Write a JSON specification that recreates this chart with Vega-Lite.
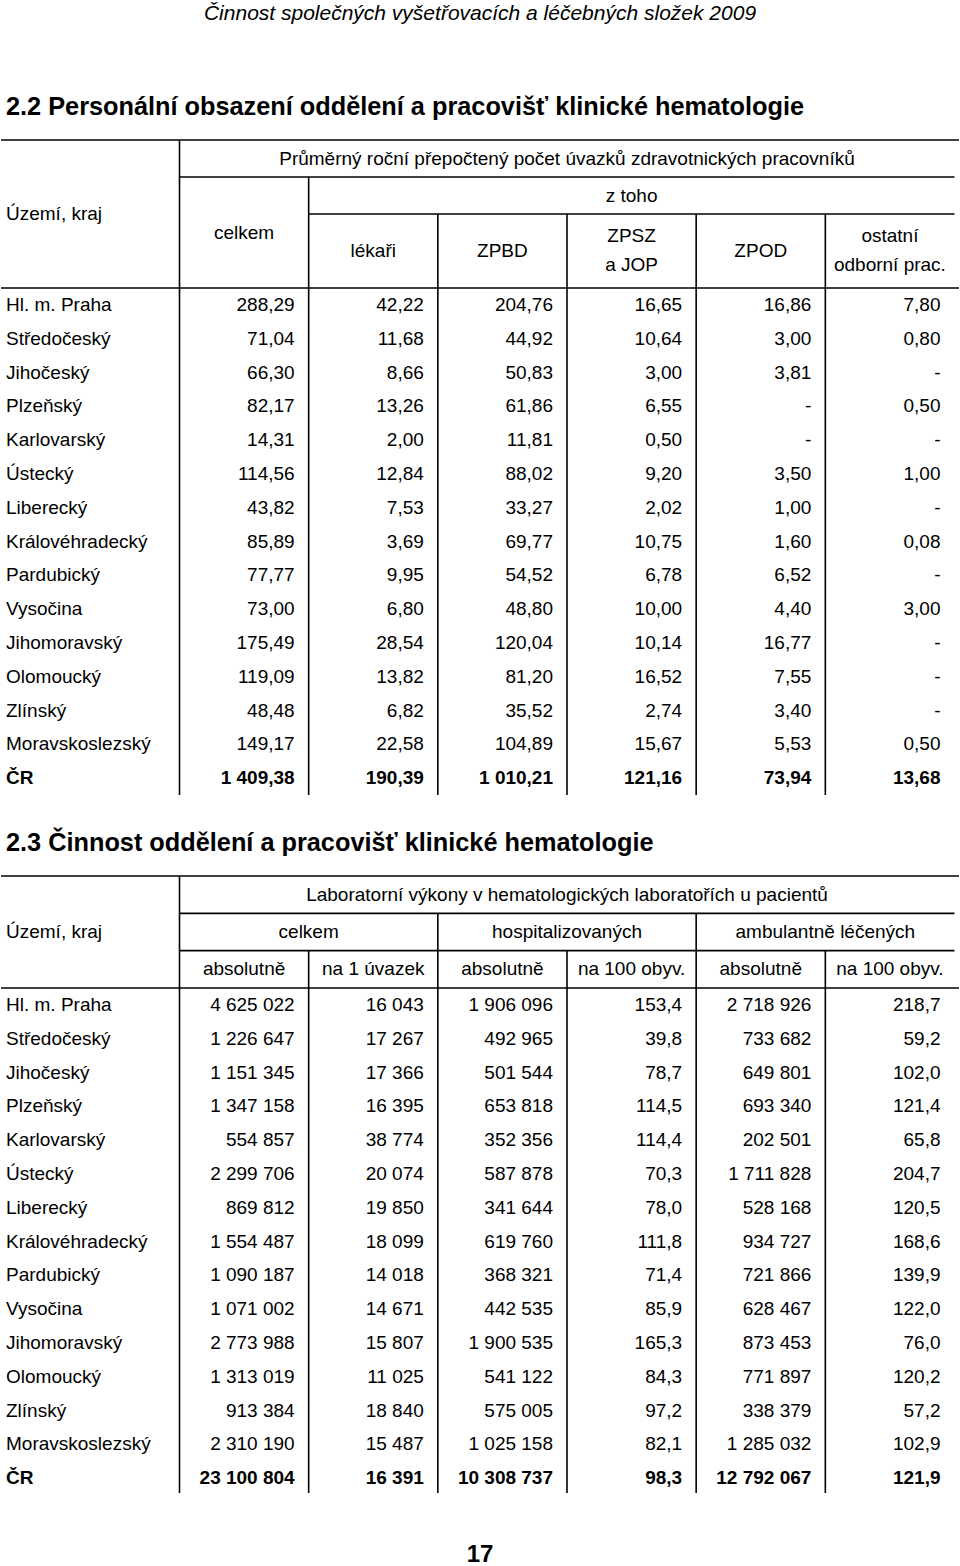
{
"$schema": "https://vega.github.io/schema/vega-lite/v6.json",
"width": 960, "height": 1566,
"autosize": {"type": "fit", "contains": "padding"},
"padding": 0,
"background": "white",
"config": {
  "view": {"stroke": null},
  "text": {"font": "Liberation Sans", "fontSize": 19, "color": "black", "baseline": "middle"},
  "rule": {"color": "black", "strokeWidth": 1.6},
  "locale": {"number": {"decimal": ",", "thousands": " ", "grouping": [3], "currency": ["", " Kč"]}}
},
"datasets": {
  "t1": [
    {"region": "Hl. m. Praha", "celkem": 288.29, "lekari": 42.22, "ZPBD": 204.76, "ZPSZ_JOP": 16.65, "ZPOD": 16.86, "ostatni": 7.80},
    {"region": "Středočeský", "celkem": 71.04, "lekari": 11.68, "ZPBD": 44.92, "ZPSZ_JOP": 10.64, "ZPOD": 3.00, "ostatni": 0.80},
    {"region": "Jihočeský", "celkem": 66.30, "lekari": 8.66, "ZPBD": 50.83, "ZPSZ_JOP": 3.00, "ZPOD": 3.81, "ostatni": null},
    {"region": "Plzeňský", "celkem": 82.17, "lekari": 13.26, "ZPBD": 61.86, "ZPSZ_JOP": 6.55, "ZPOD": null, "ostatni": 0.50},
    {"region": "Karlovarský", "celkem": 14.31, "lekari": 2.00, "ZPBD": 11.81, "ZPSZ_JOP": 0.50, "ZPOD": null, "ostatni": null},
    {"region": "Ústecký", "celkem": 114.56, "lekari": 12.84, "ZPBD": 88.02, "ZPSZ_JOP": 9.20, "ZPOD": 3.50, "ostatni": 1.00},
    {"region": "Liberecký", "celkem": 43.82, "lekari": 7.53, "ZPBD": 33.27, "ZPSZ_JOP": 2.02, "ZPOD": 1.00, "ostatni": null},
    {"region": "Královéhradecký", "celkem": 85.89, "lekari": 3.69, "ZPBD": 69.77, "ZPSZ_JOP": 10.75, "ZPOD": 1.60, "ostatni": 0.08},
    {"region": "Pardubický", "celkem": 77.77, "lekari": 9.95, "ZPBD": 54.52, "ZPSZ_JOP": 6.78, "ZPOD": 6.52, "ostatni": null},
    {"region": "Vysočina", "celkem": 73.00, "lekari": 6.80, "ZPBD": 48.80, "ZPSZ_JOP": 10.00, "ZPOD": 4.40, "ostatni": 3.00},
    {"region": "Jihomoravský", "celkem": 175.49, "lekari": 28.54, "ZPBD": 120.04, "ZPSZ_JOP": 10.14, "ZPOD": 16.77, "ostatni": null},
    {"region": "Olomoucký", "celkem": 119.09, "lekari": 13.82, "ZPBD": 81.20, "ZPSZ_JOP": 16.52, "ZPOD": 7.55, "ostatni": null},
    {"region": "Zlínský", "celkem": 48.48, "lekari": 6.82, "ZPBD": 35.52, "ZPSZ_JOP": 2.74, "ZPOD": 3.40, "ostatni": null},
    {"region": "Moravskoslezský", "celkem": 149.17, "lekari": 22.58, "ZPBD": 104.89, "ZPSZ_JOP": 15.67, "ZPOD": 5.53, "ostatni": 0.50},
    {"region": "ČR", "celkem": 1409.38, "lekari": 190.39, "ZPBD": 1010.21, "ZPSZ_JOP": 121.16, "ZPOD": 73.94, "ostatni": 13.68}
  ],
  "t2": [
    {"region": "Hl. m. Praha", "celkem_abs": 4625022, "celkem_na_uvazek": 16043, "hosp_abs": 1906096, "hosp_na_100": 153.4, "amb_abs": 2718926, "amb_na_100": 218.7},
    {"region": "Středočeský", "celkem_abs": 1226647, "celkem_na_uvazek": 17267, "hosp_abs": 492965, "hosp_na_100": 39.8, "amb_abs": 733682, "amb_na_100": 59.2},
    {"region": "Jihočeský", "celkem_abs": 1151345, "celkem_na_uvazek": 17366, "hosp_abs": 501544, "hosp_na_100": 78.7, "amb_abs": 649801, "amb_na_100": 102.0},
    {"region": "Plzeňský", "celkem_abs": 1347158, "celkem_na_uvazek": 16395, "hosp_abs": 653818, "hosp_na_100": 114.5, "amb_abs": 693340, "amb_na_100": 121.4},
    {"region": "Karlovarský", "celkem_abs": 554857, "celkem_na_uvazek": 38774, "hosp_abs": 352356, "hosp_na_100": 114.4, "amb_abs": 202501, "amb_na_100": 65.8},
    {"region": "Ústecký", "celkem_abs": 2299706, "celkem_na_uvazek": 20074, "hosp_abs": 587878, "hosp_na_100": 70.3, "amb_abs": 1711828, "amb_na_100": 204.7},
    {"region": "Liberecký", "celkem_abs": 869812, "celkem_na_uvazek": 19850, "hosp_abs": 341644, "hosp_na_100": 78.0, "amb_abs": 528168, "amb_na_100": 120.5},
    {"region": "Královéhradecký", "celkem_abs": 1554487, "celkem_na_uvazek": 18099, "hosp_abs": 619760, "hosp_na_100": 111.8, "amb_abs": 934727, "amb_na_100": 168.6},
    {"region": "Pardubický", "celkem_abs": 1090187, "celkem_na_uvazek": 14018, "hosp_abs": 368321, "hosp_na_100": 71.4, "amb_abs": 721866, "amb_na_100": 139.9},
    {"region": "Vysočina", "celkem_abs": 1071002, "celkem_na_uvazek": 14671, "hosp_abs": 442535, "hosp_na_100": 85.9, "amb_abs": 628467, "amb_na_100": 122.0},
    {"region": "Jihomoravský", "celkem_abs": 2773988, "celkem_na_uvazek": 15807, "hosp_abs": 1900535, "hosp_na_100": 165.3, "amb_abs": 873453, "amb_na_100": 76.0},
    {"region": "Olomoucký", "celkem_abs": 1313019, "celkem_na_uvazek": 11025, "hosp_abs": 541122, "hosp_na_100": 84.3, "amb_abs": 771897, "amb_na_100": 120.2},
    {"region": "Zlínský", "celkem_abs": 913384, "celkem_na_uvazek": 18840, "hosp_abs": 575005, "hosp_na_100": 97.2, "amb_abs": 338379, "amb_na_100": 57.2},
    {"region": "Moravskoslezský", "celkem_abs": 2310190, "celkem_na_uvazek": 15487, "hosp_abs": 1025158, "hosp_na_100": 82.1, "amb_abs": 1285032, "amb_na_100": 102.9},
    {"region": "ČR", "celkem_abs": 23100804, "celkem_na_uvazek": 16391, "hosp_abs": 10308737, "hosp_na_100": 98.3, "amb_abs": 12792067, "amb_na_100": 121.9}
  ]
},
"resolve": {"scale": {"x": "independent", "y": "independent"}},
"layer": [
  {
    "data": {"values": [{"part": "page header", "text": "Činnost společných vyšetřovacích a léčebných složek 2009"}]},
    "mark": {"type": "text", "fontStyle": "italic", "fontSize": 21, "align": "center"},
    "encoding": {
      "x": {"datum": "centre", "type": "nominal", "scale": {"type": "point", "domain": ["left", "centre"], "range": [5, 479], "padding": 0}, "axis": null},
      "y": {"field": "part", "type": "nominal", "scale": {"type": "point", "domain": ["page header", "page number"], "range": [14, 1555], "padding": 0}, "axis": null},
      "text": {"field": "text", "type": "nominal"}
    }
  },
  {
    "data": {"values": [{"part": "page number", "text": "17"}]},
    "mark": {"type": "text", "fontWeight": "bold", "fontSize": 24, "align": "center"},
    "encoding": {
      "x": {"datum": "centre", "type": "nominal", "scale": {"type": "point", "domain": ["left", "centre"], "range": [5, 479], "padding": 0}, "axis": null},
      "y": {"field": "part", "type": "nominal", "scale": {"type": "point", "domain": ["page header", "page number"], "range": [14, 1555], "padding": 0}, "axis": null},
      "text": {"field": "text", "type": "nominal"}
    }
  },
  {
    "data": {"values": [
      {"part": "2.2", "text": "2.2 Personální obsazení oddělení a pracovišť klinické hematologie"},
      {"part": "2.3", "text": "2.3 Činnost oddělení a pracovišť klinické hematologie"}
    ]},
    "mark": {"type": "text", "fontWeight": "bold", "fontSize": 25.3, "align": "left"},
    "encoding": {
      "x": {"datum": "left", "type": "nominal", "scale": {"type": "point", "domain": ["left", "centre"], "range": [5, 479], "padding": 0}, "axis": null},
      "y": {"field": "part", "type": "nominal", "scale": {"type": "point", "domain": ["2.2", "2.3"], "range": [107, 843], "padding": 0}, "axis": null},
      "text": {"field": "text", "type": "nominal"}
    }
  },

  {
    "data": {"values": [
      {"text": "z toho", "col": "ZPSZ_JOP", "level": "h3"},
      {"text": "celkem", "col": "celkem", "level": "h5"},
      {"text": "lékaři", "col": "lekari", "level": "h6"},
      {"text": "ZPBD", "col": "ZPBD", "level": "h6"},
      {"text": "ZPOD", "col": "ZPOD", "level": "h6"}
    ]},
    "mark": {"type": "text", "align": "center"},
    "encoding": {
      "x": {"field": "col", "type": "nominal", "bandPosition": 0.5, "scale": {"type": "band", "domain": ["celkem", "lekari", "ZPBD", "ZPSZ_JOP", "ZPOD", "ostatni"], "range": [178.5, 953.5], "paddingInner": 0, "paddingOuter": 0}, "axis": null},
      "y": {"field": "level", "type": "nominal", "scale": {"type": "point", "domain": ["h0", "h1", "h2", "h3", "h4", "h5", "h6", "h7", "h8"], "range": [140, 288], "padding": 0}, "axis": null},
      "text": {"field": "text", "type": "nominal"}
    }
  },
  {
    "data": {"values": [
      {"text": ["ZPSZ", "a JOP"], "col": "ZPSZ_JOP", "level": "h5"},
      {"text": ["ostatní", "odborní prac."], "col": "ostatni", "level": "h5"}
    ]},
    "mark": {"type": "text", "align": "center", "lineHeight": 29, "dy": 3.5},
    "encoding": {
      "x": {"field": "col", "type": "nominal", "bandPosition": 0.5, "scale": {"type": "band", "domain": ["celkem", "lekari", "ZPBD", "ZPSZ_JOP", "ZPOD", "ostatni"], "range": [178.5, 953.5], "paddingInner": 0, "paddingOuter": 0}, "axis": null},
      "y": {"field": "level", "type": "nominal", "scale": {"type": "point", "domain": ["h0", "h1", "h2", "h3", "h4", "h5", "h6", "h7", "h8"], "range": [140, 288], "padding": 0}, "axis": null},
      "text": {"field": "text", "type": "nominal"}
    }
  },
  {
    "data": {"values": [
      {"text": "Průměrný roční přepočtený počet úvazků zdravotnických pracovníků", "col": "ZPSZ_JOP", "level": "h1"}
    ]},
    "mark": {"type": "text", "align": "center"},
    "encoding": {
      "x": {"field": "col", "type": "nominal", "scale": {"type": "point", "domain": ["celkem", "lekari", "ZPBD", "ZPSZ_JOP", "ZPOD", "ostatni", "konec"], "range": [178.5, 953.5], "padding": 0}, "axis": null},
      "y": {"field": "level", "type": "nominal", "scale": {"type": "point", "domain": ["h0", "h1", "h2", "h3", "h4", "h5", "h6", "h7", "h8"], "range": [140, 288], "padding": 0}, "axis": null},
      "text": {"field": "text", "type": "nominal"}
    }
  },
  {
    "data": {"values": [{"text": "Území, kraj", "level": "h4"}]},
    "mark": {"type": "text", "align": "left"},
    "encoding": {
      "x": {"datum": "left", "type": "nominal", "scale": {"type": "point", "domain": ["left", "centre"], "range": [5, 479], "padding": 0}, "axis": null},
      "y": {"field": "level", "type": "nominal", "scale": {"type": "point", "domain": ["h0", "h1", "h2", "h3", "h4", "h5", "h6", "h7", "h8"], "range": [140, 288], "padding": 0}, "axis": null},
      "text": {"field": "text", "type": "nominal"}
    }
  },
  {
    "data": {"name": "t1"},
    "transform": [{"filter": "datum.region !== 'ČR'"}],
    "mark": {"type": "text", "align": "left"},
    "encoding": {
      "x": {"datum": "left", "type": "nominal", "scale": {"type": "point", "domain": ["left", "centre"], "range": [5, 479], "padding": 0}, "axis": null},
      "y": {"field": "region", "type": "nominal", "bandPosition": 0.5, "scale": {"type": "band", "domain": ["Hl. m. Praha", "Středočeský", "Jihočeský", "Plzeňský", "Karlovarský", "Ústecký", "Liberecký", "Královéhradecký", "Pardubický", "Vysočina", "Jihomoravský", "Olomoucký", "Zlínský", "Moravskoslezský", "ČR"], "range": [288, 795], "paddingInner": 0, "paddingOuter": 0}, "axis": null},
      "text": {"field": "region", "type": "nominal"}
    }
  },
  {
    "data": {"name": "t1"},
    "transform": [{"filter": "datum.region === 'ČR'"}],
    "mark": {"type": "text", "align": "left", "fontWeight": "bold"},
    "encoding": {
      "x": {"datum": "left", "type": "nominal", "scale": {"type": "point", "domain": ["left", "centre"], "range": [5, 479], "padding": 0}, "axis": null},
      "y": {"field": "region", "type": "nominal", "bandPosition": 0.5, "scale": {"type": "band", "domain": ["Hl. m. Praha", "Středočeský", "Jihočeský", "Plzeňský", "Karlovarský", "Ústecký", "Liberecký", "Královéhradecký", "Pardubický", "Vysočina", "Jihomoravský", "Olomoucký", "Zlínský", "Moravskoslezský", "ČR"], "range": [288, 795], "paddingInner": 0, "paddingOuter": 0}, "axis": null},
      "text": {"field": "region", "type": "nominal"}
    }
  },
  {
    "data": {"name": "t1"},
    "transform": [
      {"filter": "datum.region !== 'ČR'"},
      {"fold": ["celkem", "lekari", "ZPBD", "ZPSZ_JOP", "ZPOD", "ostatni"], "as": ["key", "value"]}
    ],
    "mark": {"type": "text", "align": "right", "dx": -14},
    "encoding": {
      "x": {"field": "key", "type": "nominal", "bandPosition": 1, "scale": {"type": "band", "domain": ["celkem", "lekari", "ZPBD", "ZPSZ_JOP", "ZPOD", "ostatni"], "range": [178.5, 953.5], "paddingInner": 0, "paddingOuter": 0}, "axis": null},
      "y": {"field": "region", "type": "nominal", "bandPosition": 0.5, "scale": {"type": "band", "domain": ["Hl. m. Praha", "Středočeský", "Jihočeský", "Plzeňský", "Karlovarský", "Ústecký", "Liberecký", "Královéhradecký", "Pardubický", "Vysočina", "Jihomoravský", "Olomoucký", "Zlínský", "Moravskoslezský", "ČR"], "range": [288, 795], "paddingInner": 0, "paddingOuter": 0}, "axis": null},
      "text": {"condition": {"test": "datum.value === null", "value": "-"}, "field": "value", "type": "quantitative", "format": ",.2f"}
    }
  },
  {
    "data": {"name": "t1"},
    "transform": [
      {"filter": "datum.region === 'ČR'"},
      {"fold": ["celkem", "lekari", "ZPBD", "ZPSZ_JOP", "ZPOD", "ostatni"], "as": ["key", "value"]}
    ],
    "mark": {"type": "text", "align": "right", "dx": -14, "fontWeight": "bold"},
    "encoding": {
      "x": {"field": "key", "type": "nominal", "bandPosition": 1, "scale": {"type": "band", "domain": ["celkem", "lekari", "ZPBD", "ZPSZ_JOP", "ZPOD", "ostatni"], "range": [178.5, 953.5], "paddingInner": 0, "paddingOuter": 0}, "axis": null},
      "y": {"field": "region", "type": "nominal", "bandPosition": 0.5, "scale": {"type": "band", "domain": ["Hl. m. Praha", "Středočeský", "Jihočeský", "Plzeňský", "Karlovarský", "Ústecký", "Liberecký", "Královéhradecký", "Pardubický", "Vysočina", "Jihomoravský", "Olomoucký", "Zlínský", "Moravskoslezský", "ČR"], "range": [288, 795], "paddingInner": 0, "paddingOuter": 0}, "axis": null},
      "text": {"condition": {"test": "datum.value === null", "value": "-"}, "field": "value", "type": "quantitative", "format": ",.2f"}
    }
  },
  {
    "data": {"values": [{"level": "h0"}, {"level": "h8"}]},
    "mark": "rule",
    "encoding": {
      "y": {"field": "level", "type": "nominal", "scale": {"type": "point", "domain": ["h0", "h1", "h2", "h3", "h4", "h5", "h6", "h7", "h8"], "range": [140, 288], "padding": 0}, "axis": null}
    }
  },
  {
    "data": {"values": [{"level": "h2", "from": "celkem"}, {"level": "h4", "from": "lekari"}]},
    "mark": "rule",
    "encoding": {
      "x": {"field": "from", "type": "nominal", "scale": {"type": "point", "domain": ["celkem", "lekari", "ZPBD", "ZPSZ_JOP", "ZPOD", "ostatni", "konec"], "range": [178.5, 953.5], "padding": 0}, "axis": null},
      "x2": {"datum": "konec"},
      "y": {"field": "level", "type": "nominal", "scale": {"type": "point", "domain": ["h0", "h1", "h2", "h3", "h4", "h5", "h6", "h7", "h8"], "range": [140, 288], "padding": 0}, "axis": null}
    }
  },
  {
    "data": {"values": [
      {"col": "celkem", "from": "h0"}, {"col": "lekari", "from": "h2"}, {"col": "ZPBD", "from": "h4"},
      {"col": "ZPSZ_JOP", "from": "h4"}, {"col": "ZPOD", "from": "h4"}, {"col": "ostatni", "from": "h4"}
    ]},
    "mark": "rule",
    "encoding": {
      "x": {"field": "col", "type": "nominal", "scale": {"type": "point", "domain": ["celkem", "lekari", "ZPBD", "ZPSZ_JOP", "ZPOD", "ostatni", "konec"], "range": [178.5, 953.5], "padding": 0}, "axis": null},
      "y": {"field": "from", "type": "nominal", "scale": {"type": "point", "domain": ["h0", "h1", "h2", "h3", "h4", "h5", "h6", "h7", "h8"], "range": [140, 288], "padding": 0}, "axis": null},
      "y2": {"datum": "h8"}
    }
  },
  {
    "data": {"values": [{"col": "celkem"}, {"col": "lekari"}, {"col": "ZPBD"}, {"col": "ZPSZ_JOP"}, {"col": "ZPOD"}, {"col": "ostatni"}]},
    "mark": "rule",
    "encoding": {
      "x": {"field": "col", "type": "nominal", "scale": {"type": "point", "domain": ["celkem", "lekari", "ZPBD", "ZPSZ_JOP", "ZPOD", "ostatni", "konec"], "range": [178.5, 953.5], "padding": 0}, "axis": null},
      "y": {"datum": "start", "type": "nominal", "scale": {"type": "point", "domain": ["start", "end"], "range": [288, 795], "padding": 0}, "axis": null},
      "y2": {"datum": "end"}
    }
  },

  {
    "data": {"values": [
      {"text": "absolutně", "col": "celkem_abs", "level": "h5"},
      {"text": "na 1 úvazek", "col": "celkem_na_uvazek", "level": "h5"},
      {"text": "absolutně", "col": "hosp_abs", "level": "h5"},
      {"text": "na 100 obyv.", "col": "hosp_na_100", "level": "h5"},
      {"text": "absolutně", "col": "amb_abs", "level": "h5"},
      {"text": "na 100 obyv.", "col": "amb_na_100", "level": "h5"}
    ]},
    "mark": {"type": "text", "align": "center"},
    "encoding": {
      "x": {"field": "col", "type": "nominal", "bandPosition": 0.5, "scale": {"type": "band", "domain": ["celkem_abs", "celkem_na_uvazek", "hosp_abs", "hosp_na_100", "amb_abs", "amb_na_100"], "range": [178.5, 953.5], "paddingInner": 0, "paddingOuter": 0}, "axis": null},
      "y": {"field": "level", "type": "nominal", "scale": {"type": "point", "domain": ["h0", "h1", "h2", "h3", "h4", "h5", "h6"], "range": [876, 988], "padding": 0}, "axis": null},
      "text": {"field": "text", "type": "nominal"}
    }
  },
  {
    "data": {"values": [
      {"text": "Laboratorní výkony v hematologických laboratořích u pacientů", "col": "hosp_na_100", "level": "h1"},
      {"text": "celkem", "col": "celkem_na_uvazek", "level": "h3"},
      {"text": "hospitalizovaných", "col": "hosp_na_100", "level": "h3"},
      {"text": "ambulantně léčených", "col": "amb_na_100", "level": "h3"}
    ]},
    "mark": {"type": "text", "align": "center"},
    "encoding": {
      "x": {"field": "col", "type": "nominal", "scale": {"type": "point", "domain": ["celkem_abs", "celkem_na_uvazek", "hosp_abs", "hosp_na_100", "amb_abs", "amb_na_100", "konec"], "range": [178.5, 953.5], "padding": 0}, "axis": null},
      "y": {"field": "level", "type": "nominal", "scale": {"type": "point", "domain": ["h0", "h1", "h2", "h3", "h4", "h5", "h6"], "range": [876, 988], "padding": 0}, "axis": null},
      "text": {"field": "text", "type": "nominal"}
    }
  },
  {
    "data": {"values": [{"text": "Území, kraj", "level": "h3"}]},
    "mark": {"type": "text", "align": "left"},
    "encoding": {
      "x": {"datum": "left", "type": "nominal", "scale": {"type": "point", "domain": ["left", "centre"], "range": [5, 479], "padding": 0}, "axis": null},
      "y": {"field": "level", "type": "nominal", "scale": {"type": "point", "domain": ["h0", "h1", "h2", "h3", "h4", "h5", "h6"], "range": [876, 988], "padding": 0}, "axis": null},
      "text": {"field": "text", "type": "nominal"}
    }
  },
  {
    "data": {"name": "t2"},
    "transform": [{"filter": "datum.region !== 'ČR'"}],
    "mark": {"type": "text", "align": "left"},
    "encoding": {
      "x": {"datum": "left", "type": "nominal", "scale": {"type": "point", "domain": ["left", "centre"], "range": [5, 479], "padding": 0}, "axis": null},
      "y": {"field": "region", "type": "nominal", "bandPosition": 0.5, "scale": {"type": "band", "domain": ["Hl. m. Praha", "Středočeský", "Jihočeský", "Plzeňský", "Karlovarský", "Ústecký", "Liberecký", "Královéhradecký", "Pardubický", "Vysočina", "Jihomoravský", "Olomoucký", "Zlínský", "Moravskoslezský", "ČR"], "range": [988, 1495], "paddingInner": 0, "paddingOuter": 0}, "axis": null},
      "text": {"field": "region", "type": "nominal"}
    }
  },
  {
    "data": {"name": "t2"},
    "transform": [{"filter": "datum.region === 'ČR'"}],
    "mark": {"type": "text", "align": "left", "fontWeight": "bold"},
    "encoding": {
      "x": {"datum": "left", "type": "nominal", "scale": {"type": "point", "domain": ["left", "centre"], "range": [5, 479], "padding": 0}, "axis": null},
      "y": {"field": "region", "type": "nominal", "bandPosition": 0.5, "scale": {"type": "band", "domain": ["Hl. m. Praha", "Středočeský", "Jihočeský", "Plzeňský", "Karlovarský", "Ústecký", "Liberecký", "Královéhradecký", "Pardubický", "Vysočina", "Jihomoravský", "Olomoucký", "Zlínský", "Moravskoslezský", "ČR"], "range": [988, 1495], "paddingInner": 0, "paddingOuter": 0}, "axis": null},
      "text": {"field": "region", "type": "nominal"}
    }
  },
  {
    "data": {"name": "t2"},
    "transform": [
      {"filter": "datum.region !== 'ČR'"},
      {"fold": ["celkem_abs", "celkem_na_uvazek", "hosp_abs", "hosp_na_100", "amb_abs", "amb_na_100"], "as": ["key", "value"]}
    ],
    "mark": {"type": "text", "align": "right", "dx": -14},
    "encoding": {
      "x": {"field": "key", "type": "nominal", "bandPosition": 1, "scale": {"type": "band", "domain": ["celkem_abs", "celkem_na_uvazek", "hosp_abs", "hosp_na_100", "amb_abs", "amb_na_100"], "range": [178.5, 953.5], "paddingInner": 0, "paddingOuter": 0}, "axis": null},
      "y": {"field": "region", "type": "nominal", "bandPosition": 0.5, "scale": {"type": "band", "domain": ["Hl. m. Praha", "Středočeský", "Jihočeský", "Plzeňský", "Karlovarský", "Ústecký", "Liberecký", "Královéhradecký", "Pardubický", "Vysočina", "Jihomoravský", "Olomoucký", "Zlínský", "Moravskoslezský", "ČR"], "range": [988, 1495], "paddingInner": 0, "paddingOuter": 0}, "axis": null},
      "text": {"condition": {"test": "indexof(datum.key, 'na_100') >= 0", "field": "value", "type": "quantitative", "format": ",.1f"}, "field": "value", "type": "quantitative", "format": ",d"}
    }
  },
  {
    "data": {"name": "t2"},
    "transform": [
      {"filter": "datum.region === 'ČR'"},
      {"fold": ["celkem_abs", "celkem_na_uvazek", "hosp_abs", "hosp_na_100", "amb_abs", "amb_na_100"], "as": ["key", "value"]}
    ],
    "mark": {"type": "text", "align": "right", "dx": -14, "fontWeight": "bold"},
    "encoding": {
      "x": {"field": "key", "type": "nominal", "bandPosition": 1, "scale": {"type": "band", "domain": ["celkem_abs", "celkem_na_uvazek", "hosp_abs", "hosp_na_100", "amb_abs", "amb_na_100"], "range": [178.5, 953.5], "paddingInner": 0, "paddingOuter": 0}, "axis": null},
      "y": {"field": "region", "type": "nominal", "bandPosition": 0.5, "scale": {"type": "band", "domain": ["Hl. m. Praha", "Středočeský", "Jihočeský", "Plzeňský", "Karlovarský", "Ústecký", "Liberecký", "Královéhradecký", "Pardubický", "Vysočina", "Jihomoravský", "Olomoucký", "Zlínský", "Moravskoslezský", "ČR"], "range": [988, 1495], "paddingInner": 0, "paddingOuter": 0}, "axis": null},
      "text": {"condition": {"test": "indexof(datum.key, 'na_100') >= 0", "field": "value", "type": "quantitative", "format": ",.1f"}, "field": "value", "type": "quantitative", "format": ",d"}
    }
  },
  {
    "data": {"values": [{"level": "h0"}, {"level": "h6"}]},
    "mark": "rule",
    "encoding": {
      "y": {"field": "level", "type": "nominal", "scale": {"type": "point", "domain": ["h0", "h1", "h2", "h3", "h4", "h5", "h6"], "range": [876, 988], "padding": 0}, "axis": null}
    }
  },
  {
    "data": {"values": [{"level": "h2", "from": "celkem_abs"}, {"level": "h4", "from": "celkem_abs"}]},
    "mark": "rule",
    "encoding": {
      "x": {"field": "from", "type": "nominal", "scale": {"type": "point", "domain": ["celkem_abs", "celkem_na_uvazek", "hosp_abs", "hosp_na_100", "amb_abs", "amb_na_100", "konec"], "range": [178.5, 953.5], "padding": 0}, "axis": null},
      "x2": {"datum": "konec"},
      "y": {"field": "level", "type": "nominal", "scale": {"type": "point", "domain": ["h0", "h1", "h2", "h3", "h4", "h5", "h6"], "range": [876, 988], "padding": 0}, "axis": null}
    }
  },
  {
    "data": {"values": [
      {"col": "celkem_abs", "from": "h0"}, {"col": "celkem_na_uvazek", "from": "h4"}, {"col": "hosp_abs", "from": "h2"},
      {"col": "hosp_na_100", "from": "h4"}, {"col": "amb_abs", "from": "h2"}, {"col": "amb_na_100", "from": "h4"}
    ]},
    "mark": "rule",
    "encoding": {
      "x": {"field": "col", "type": "nominal", "scale": {"type": "point", "domain": ["celkem_abs", "celkem_na_uvazek", "hosp_abs", "hosp_na_100", "amb_abs", "amb_na_100", "konec"], "range": [178.5, 953.5], "padding": 0}, "axis": null},
      "y": {"field": "from", "type": "nominal", "scale": {"type": "point", "domain": ["h0", "h1", "h2", "h3", "h4", "h5", "h6"], "range": [876, 988], "padding": 0}, "axis": null},
      "y2": {"datum": "h6"}
    }
  },
  {
    "data": {"values": [{"col": "celkem_abs"}, {"col": "celkem_na_uvazek"}, {"col": "hosp_abs"}, {"col": "hosp_na_100"}, {"col": "amb_abs"}, {"col": "amb_na_100"}]},
    "mark": "rule",
    "encoding": {
      "x": {"field": "col", "type": "nominal", "scale": {"type": "point", "domain": ["celkem_abs", "celkem_na_uvazek", "hosp_abs", "hosp_na_100", "amb_abs", "amb_na_100", "konec"], "range": [178.5, 953.5], "padding": 0}, "axis": null},
      "y": {"datum": "start", "type": "nominal", "scale": {"type": "point", "domain": ["start", "end"], "range": [988, 1493], "padding": 0}, "axis": null},
      "y2": {"datum": "end"}
    }
  }
]
}
